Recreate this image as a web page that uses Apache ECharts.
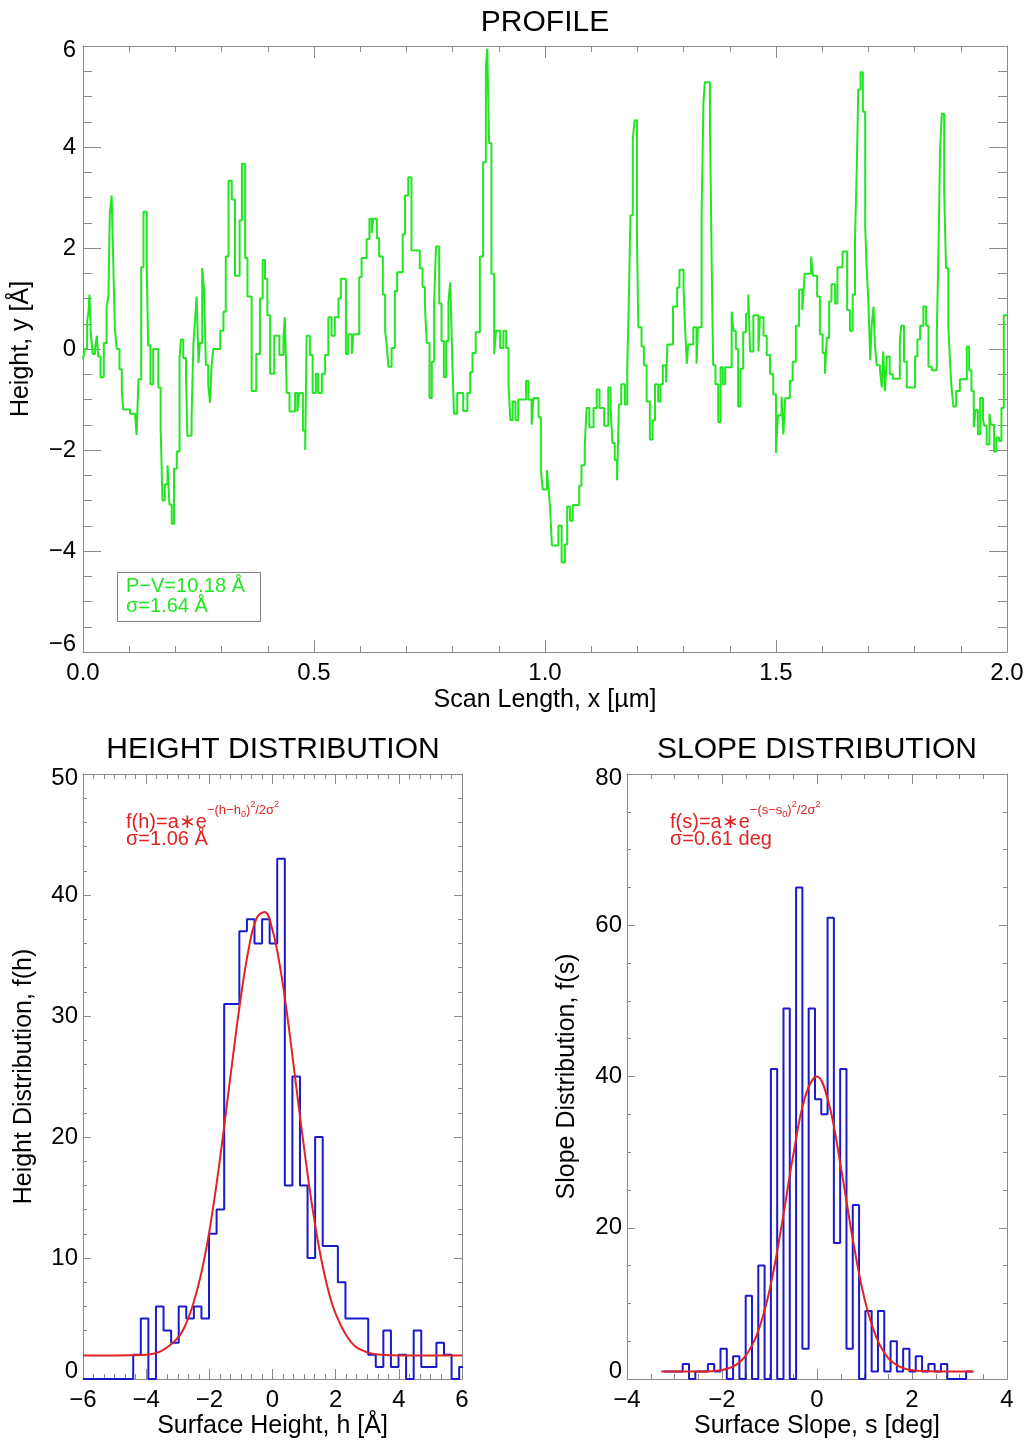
<!DOCTYPE html>
<html>
<head>
<meta charset="utf-8">
<script src="https://cdn.jsdelivr.net/npm/echarts@6/dist/echarts.min.js"></script>
<style>
  html, body { margin: 0; padding: 0; background: #fff; }
  #chart { width: 1029px; height: 1445px; }
</style>
</head>
<body>
<div id="chart"></div>
<script>
// ---- Surface profile: step start position (µm) and height (Å) ----
const profileX = [
  0.000,0.004,0.009,0.012,0.014,0.017,0.021,0.026,0.030,0.033,0.038,0.045,0.051,0.055,0.058,0.062,0.066,0.069,0.073,0.079,
  0.084,0.087,0.102,0.113,0.116,0.120,0.126,0.131,0.138,0.141,0.146,0.152,0.163,0.168,0.172,0.177,0.183,0.187,0.192,0.197,
  0.203,0.209,0.212,0.217,0.223,0.226,0.235,0.239,0.242,0.246,0.250,0.253,0.258,0.262,0.266,0.271,0.275,0.278,0.282,0.297,
  0.304,0.309,0.315,0.322,0.329,0.339,0.344,0.351,0.356,0.365,0.375,0.383,0.389,0.394,0.399,0.405,0.414,0.425,0.434,0.437,
  0.441,0.447,0.459,0.464,0.468,0.476,0.481,0.484,0.491,0.497,0.504,0.509,0.517,0.524,0.531,0.538,0.545,0.553,0.558,0.569,
  0.574,0.582,0.585,0.598,0.603,0.614,0.620,0.625,0.628,0.636,0.641,0.649,0.654,0.658,0.661,0.668,0.675,0.680,0.692,0.697,
  0.704,0.711,0.729,0.735,0.740,0.744,0.750,0.755,0.760,0.764,0.771,0.776,0.781,0.786,0.791,0.795,0.799,0.803,0.810,0.823,
  0.832,0.838,0.843,0.850,0.859,0.866,0.872,0.875,0.879,0.884,0.890,0.894,0.903,0.910,0.916,0.921,0.925,0.930,0.936,0.942,
  0.959,0.964,0.971,0.975,0.986,0.991,0.995,1.004,1.008,1.011,1.015,1.029,1.036,1.043,1.048,1.054,1.060,1.074,1.079,1.086,
  1.090,1.096,1.105,1.112,1.118,1.128,1.137,1.142,1.146,1.151,1.156,1.160,1.165,1.173,1.178,1.181,1.185,1.190,1.194,1.199,
  1.202,1.209,1.214,1.220,1.227,1.233,1.238,1.245,1.250,1.255,1.262,1.265,1.277,1.286,1.291,1.300,1.303,1.307,1.310,1.321,
  1.328,1.331,1.339,1.343,1.346,1.357,1.361,1.364,1.369,1.375,1.380,1.385,1.390,1.404,1.408,1.413,1.418,1.423,1.429,1.435,
  1.440,1.444,1.451,1.462,1.465,1.473,1.480,1.487,1.494,1.500,1.504,1.512,1.516,1.520,1.530,1.536,1.543,1.550,1.557,1.560,
  1.562,1.576,1.580,1.589,1.595,1.601,1.606,1.610,1.615,1.620,1.628,1.633,1.644,1.654,1.660,1.666,1.671,1.675,1.678,1.683,
  1.688,1.693,1.696,1.700,1.704,1.707,1.711,1.714,1.718,1.725,1.729,1.732,1.736,1.740,1.746,1.753,1.768,1.771,1.777,1.783,
  1.801,1.806,1.812,1.819,1.825,1.830,1.837,1.848,1.852,1.855,1.859,1.864,1.868,1.873,1.877,1.880,1.884,1.890,1.898,1.913,
  1.918,1.923,1.928,1.932,1.937,1.942,1.948,1.951,1.956,1.962,1.965,1.972,1.977,1.983,1.988,1.993,2.000
];
const profileY = [
  -0.20,0.00,0.55,0.75,1.08,0.30,-0.10,0.00,0.26,-0.15,-0.56,0.12,0.84,1.04,2.68,3.04,1.52,0.40,0.00,-0.40,
  -0.82,-1.20,-1.28,-1.35,-1.70,-0.60,1.62,2.72,1.60,0.07,-0.70,0.00,-0.76,-1.55,-3.00,-2.68,-2.30,-3.08,-3.46,-2.37,
  -2.03,-0.18,0.19,-0.18,-0.60,-1.72,-1.35,0.12,0.50,1.04,-0.28,0.12,1.60,1.18,-0.32,-0.70,-1.07,-0.36,0.00,0.36,
  0.74,1.83,3.33,2.96,1.45,2.55,3.67,1.80,1.04,-0.83,-0.10,1.00,1.76,1.39,0.67,-0.49,0.26,-0.12,0.26,0.63,
  -0.87,-1.24,-0.87,-1.24,-0.87,-1.62,-2.00,0.26,-0.12,-0.87,-0.49,-0.87,-0.49,-0.12,0.63,0.26,0.63,1.00,1.39,-0.10,
  0.29,-0.10,0.29,1.42,1.80,2.18,2.58,2.30,2.58,2.20,1.83,1.08,0.36,0.00,-0.35,0.02,1.15,1.52,2.27,3.04,
  3.40,1.95,1.60,1.23,0.87,0.12,-0.97,-0.25,0.90,2.03,0.90,0.16,-0.56,0.16,0.94,1.32,-0.15,-1.28,-0.87,-1.23,
  -0.87,-0.46,-0.08,0.33,1.83,3.70,5.58,5.95,4.08,1.49,-0.10,0.36,0.02,0.36,0.02,-0.70,-1.41,-1.04,-1.41,-1.00,
  -0.63,-1.00,-1.50,-0.97,-1.35,-2.40,-2.78,-2.40,-2.78,-3.15,-3.89,-3.50,-4.23,-3.87,-3.12,-3.40,-3.09,-2.71,-2.30,-1.92,
  -1.17,-1.55,-1.17,-0.80,-1.17,-1.52,-0.76,-1.17,-1.86,-2.20,-2.60,-1.10,-0.70,-1.10,-0.36,0.77,2.65,4.15,4.53,2.27,
  0.43,0.05,-0.32,-1.04,-1.79,-1.41,-0.70,-1.04,-0.70,-0.32,-0.66,0.09,0.84,1.22,1.57,1.18,0.46,-0.29,0.09,0.43,
  -0.29,0.43,2.68,4.90,5.28,4.53,1.56,-0.32,-0.70,-1.45,-0.36,-0.70,-0.36,0.74,0.36,0.00,-1.14,-0.39,0.33,0.70,
  1.08,-0.05,0.67,-0.05,0.63,0.26,-0.12,-0.49,-0.90,-2.06,-1.31,-0.94,-1.69,-0.97,-0.63,-0.25,0.46,1.18,0.77,1.18,
  1.49,1.83,1.45,1.04,0.29,-0.08,-0.49,0.22,0.94,1.28,0.90,1.62,1.93,0.77,0.36,1.08,2.17,3.64,5.14,5.48,
  4.70,2.44,1.66,0.91,-0.22,0.46,0.84,0.09,-0.32,-0.42,-0.76,-0.05,-0.83,-0.15,-0.50,-0.59,0.12,0.46,-0.25,-0.76,
  -0.15,0.19,0.46,0.84,0.46,-0.35,-0.42,0.26,2.10,3.94,4.66,3.13,1.60,0.46,-0.32,-0.76,-1.14,-0.83,-0.60,0.05,
  -0.42,-0.83,-1.55,-1.21,-1.69,-0.97,-1.41,-1.52,-1.89,-1.28,-1.50,-2.03,-1.75,-1.82,-1.17,0.67,0.67
];

// ---- Height histogram (counts per 0.24 Å bin) and Gaussian fit ----
const heightBinStart = -4.41;
const heightBinWidth = 0.24;
const heightCounts = [2,5,0,6,4,3,6,5,6,5,12,14,31,31,37,38,36,38,36,43,16,25,16,10,20,11,11,8,5,5,5,2,1,4,1,2,0,4,1,1,3,2,0,1];
const heightFitX = [-6,-5,-4.5,-4,-3.5,-3,-2.75,-2.5,-2.25,-2,-1.75,-1.5,-1.25,-1,-0.75,-0.5,-0.25,0,0.25,0.5,0.75,1,1.25,1.5,1.75,2,2.5,3,3.5,4,5,6];
const heightFitY = [1.95,1.95,1.96,2.0,2.35,3.4,4.5,6.3,8.8,12.2,16.5,21.5,26.7,31.6,35.6,38.1,38.6,37.1,33.9,29.4,24.2,19.1,14.4,10.5,7.5,5.4,3.0,2.2,2.0,1.95,1.95,1.95];

// ---- Slope histogram (counts per 0.1326 deg bin) and Gaussian fit ----
const slopeBinStart = -3.225;
const slopeBinWidth = 0.1326;
const slopeCounts = [1,1,1,2,0,1,1,2,1,4,0,3,0,11,0,15,0,41,0,49,0,65,4,49,37,35,61,18,41,4,23,0,9,1,9,1,5,1,4,1,3,1,2,1,2,0,0,0,1];
const slopeFitX = [-3.28,-2.5,-2,-1.75,-1.5,-1.25,-1,-0.75,-0.5,-0.25,0,0.25,0.5,0.75,1,1.25,1.5,1.75,2,2.5,3.3];
const slopeFitY = [1.0,1.0,1.2,1.7,3.1,6.1,11.7,20.1,29.6,37.3,40,36.4,28.1,18.6,10.6,5.5,2.75,1.6,1.15,1.0,1.0];

// ---- Axis ranges ----
const profileXTicks = [0, 0.5, 1.0, 1.5, 2.0];
const profileYTicks = [-6, -4, -2, 0, 2, 4, 6];

// ---- styling ----
const FONT = '"Liberation Sans", Arial, Helvetica, sans-serif';
const TICK_FS = 24;
const NAME_FS = 25;
const axisGray = '#8a8a8a';
const green = '#22e622';
const blue = '#1a1acc';
const red = '#e02424';
const minus = v => String(v).replace('-', '\u2212');

function histPoints(start, width, counts, leftEdge) {
  const pts = [];
  if (leftEdge !== undefined) pts.push([leftEdge, 0]);
  counts.forEach((c, i) => pts.push([start + i * width, c]));
  pts.push([start + counts.length * width, counts[counts.length - 1]]);
  return pts;
}

// y labels: lowest one lifted, highest one lowered slightly
function yFmt(min, max) {
  return v => {
    const t = minus(v);
    if (v === min) return '{lo|' + t + '}';
    if (v === max) return '{hi|' + t + '}';
    return t;
  };
}
const yRich = {
  lo: { fontSize: TICK_FS, fontFamily: FONT, color: '#000', padding: [0, 0, 16, 0] },
  hi: { fontSize: TICK_FS, fontFamily: FONT, color: '#000', padding: [8, 0, 0, 0] }
};

function xAxes(grid, min, max, interval, minorSplit, majLen, minLen, fmt, name, nameGap) {
  const base = {
    gridIndex: grid, type: 'value', min, max, interval,
    splitLine: { show: false },
    axisLine: { show: true, onZero: false, lineStyle: { color: axisGray, width: 1 } },
    axisTick: { show: true, inside: true, length: majLen, lineStyle: { color: axisGray } },
    minorTick: { show: true, splitNumber: minorSplit, length: minLen, lineStyle: { color: axisGray } }
  };
  return [
    Object.assign({}, base, {
      position: 'bottom',
      axisLabel: { color: '#000', fontSize: TICK_FS, fontFamily: FONT, margin: 9, formatter: fmt },
      name, nameLocation: 'middle', nameGap,
      nameTextStyle: { color: '#000', fontSize: NAME_FS, fontFamily: FONT }
    }),
    Object.assign({}, base, { position: 'top', axisLabel: { show: false } })
  ];
}
function yAxes(grid, min, max, interval, minorSplit, majLen, minLen, name, nameGap, labelMargin) {
  const base = {
    gridIndex: grid, type: 'value', min, max, interval,
    splitLine: { show: false },
    axisLine: { show: true, onZero: false, lineStyle: { color: axisGray, width: 1 } },
    axisTick: { show: true, inside: true, length: majLen, lineStyle: { color: axisGray } },
    minorTick: { show: true, splitNumber: minorSplit, length: minLen, lineStyle: { color: axisGray } }
  };
  return [
    Object.assign({}, base, {
      position: 'left',
      axisLabel: { color: '#000', fontSize: TICK_FS, fontFamily: FONT, margin: labelMargin,
                   formatter: yFmt(min, max), rich: yRich },
      name, nameLocation: 'middle', nameGap, nameRotate: 90,
      nameTextStyle: { color: '#000', fontSize: NAME_FS, fontFamily: FONT }
    }),
    Object.assign({}, base, { position: 'right', axisLabel: { show: false } })
  ];
}

const profileData = profileX.map((x, i) => [x, profileY[i]]);
const heightHist = histPoints(heightBinStart, heightBinWidth, heightCounts, -6);
const slopeHist = histPoints(slopeBinStart, slopeBinWidth, slopeCounts);
const heightFit = heightFitX.map((x, i) => [x, heightFitY[i]]);
const slopeFit = slopeFitX.map((x, i) => [x, slopeFitY[i]]);

function formula(x, letter) {
  return {
    type: 'text', x, y: 799, z: 11, style: {
      text: '{m|f(' + letter + ')=a\u2217e}{s|\u2212(' + letter + '\u2212' + letter + '}{b|0}{s|)}{p|2}{s|/2σ}{p|2}',
      fill: red, textVerticalAlign: 'top',
      rich: {
        m: { fontSize: 20, fontFamily: FONT, lineHeight: 20, padding: [13, 0, 0, 0], verticalAlign: 'top', fill: red },
        s: { fontSize: 13, fontFamily: FONT, lineHeight: 14, padding: [5, 0, 0, 0], verticalAlign: 'top', fill: red },
        b: { fontSize: 9, fontFamily: FONT, lineHeight: 10, padding: [11, 0, 0, 0], verticalAlign: 'top', fill: red },
        p: { fontSize: 9, fontFamily: FONT, lineHeight: 10, padding: [1, 0, 0, 0], verticalAlign: 'top', fill: red }
      }
    }
  };
}

const chart = echarts.init(document.getElementById('chart'), null, { renderer: 'canvas' });

const option = {
  backgroundColor: '#ffffff',
  animation: false,
  grid: [
    { left: 83, top: 46, width: 924, height: 606, containLabel: false },
    { left: 83, top: 774, width: 379, height: 605, containLabel: false },
    { left: 627, top: 774, width: 380, height: 605, containLabel: false }
  ],
  xAxis: [
    ...xAxes(0, profileXTicks[0], profileXTicks[profileXTicks.length - 1], 0.5, 5, 12, 6,
      v => v.toFixed(1), 'Scan Length, x [µm]', 36),
    ...xAxes(1, -6, 6, 2, 6, 10, 5, v => minus(v), 'Surface Height, h [Å]', 35),
    ...xAxes(2, -4, 4, 2, 4, 10, 5, v => minus(v), 'Surface Slope, s [deg]', 35)
  ],
  yAxis: [
    ...yAxes(0, profileYTicks[0], profileYTicks[profileYTicks.length - 1], 2, 4, 18, 9, 'Height, y [Å]', 49, 7),
    ...yAxes(1, 0, 50, 10, 5, 8, 4, 'Height Distribution, f(h)', 46, 5),
    ...yAxes(2, 0, 80, 20, 4, 8, 4, 'Slope Distribution, f(s)', 47, 5)
  ],
  series: [
    { type: 'line', xAxisIndex: 0, yAxisIndex: 0, data: profileData, step: 'end', symbol: 'none',
      lineStyle: { color: green, width: 2 }, clip: true },
    { type: 'line', xAxisIndex: 2, yAxisIndex: 2, data: heightHist, step: 'end', symbol: 'none',
      lineStyle: { color: blue, width: 2 }, clip: true },
    { type: 'line', xAxisIndex: 2, yAxisIndex: 2, data: heightFit, smooth: 0.4, symbol: 'none',
      lineStyle: { color: red, width: 2 }, clip: true, z: 3 },
    { type: 'line', xAxisIndex: 4, yAxisIndex: 4, data: slopeHist, step: 'end', symbol: 'none',
      lineStyle: { color: blue, width: 2 }, clip: true },
    { type: 'line', xAxisIndex: 4, yAxisIndex: 4, data: slopeFit, smooth: 0.4, symbol: 'none',
      lineStyle: { color: red, width: 2 }, clip: true, z: 3 }
  ],
  graphic: [
    { type: 'text', x: 545, y: 23, style: { text: 'PROFILE', fill: '#000', font: '30px ' + FONT, textAlign: 'center', textVerticalAlign: 'middle' } },
    { type: 'text', x: 273, y: 750, style: { text: 'HEIGHT DISTRIBUTION', fill: '#000', font: '30px ' + FONT, textAlign: 'center', textVerticalAlign: 'middle' } },
    { type: 'text', x: 817, y: 750, style: { text: 'SLOPE DISTRIBUTION', fill: '#000', font: '30px ' + FONT, textAlign: 'center', textVerticalAlign: 'middle' } },
    // statistics box on the profile
    { type: 'rect', shape: { x: 117.5, y: 572.5, width: 143, height: 49 }, style: { fill: '#fff', stroke: '#808080', lineWidth: 1 }, z: 10 },
    { type: 'text', x: 126, y: 586, z: 11, style: { text: 'P\u2212V=10.18 Å', fill: green, font: '20px ' + FONT, textVerticalAlign: 'middle' } },
    { type: 'text', x: 126, y: 606, z: 11, style: { text: 'σ=1.64 Å', fill: green, font: '20px ' + FONT, textVerticalAlign: 'middle' } },
    // fit formulas
    formula(126, 'h'),
    { type: 'text', x: 126, y: 839, z: 11, style: { text: 'σ=1.06 Å', fill: red, font: '20px ' + FONT, textVerticalAlign: 'middle' } },
    formula(670, 's'),
    { type: 'text', x: 670, y: 839, z: 11, style: { text: 'σ=0.61 deg', fill: red, font: '20px ' + FONT, textVerticalAlign: 'middle' } }
  ]
};
chart.setOption(option);
</script>
</body>
</html>
